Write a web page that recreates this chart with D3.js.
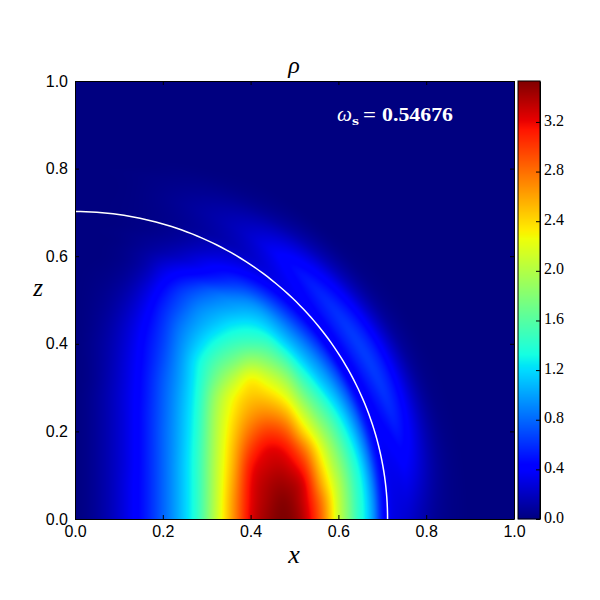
<!DOCTYPE html>
<html><head><meta charset="utf-8">
<script src="https://cdn.jsdelivr.net/npm/d3@7/dist/d3.min.js"></script>
<style>html,body{margin:0;padding:0;background:#fff}svg{display:block}</style>
</head><body><svg id="c" width="600" height="600"></svg>
<script>
// Grid positions of the density samples (both axes run 0 to 1 in 0.04 steps)
const xGrid = d3.range(26).map(i => i / 25);
const zGrid = d3.range(26).map(i => i / 25);
// rho; each row is one z, left to right in x. Cells not listed are 0.
const rhoRows = [
[0,.06,.17,.33,.52,.78,1.08,1.45,2.05,2.65,3.22,3.45,3.53,3.35,2.85,2.1,1.49,.95,.33,.24,.12,.04,.01],
[0,.06,.17,.33,.52,.78,1.08,1.45,2.04,2.64,3.2,3.42,3.5,3.3,2.78,2.08,1.47,.93,.33,.25,.13,.04,.01],
[0,.06,.17,.33,.52,.78,1.08,1.45,2.03,2.6,3.18,3.38,3.42,3.24,2.6,2.0,1.42,.88,.33,.32,.17,.05,.01],
[0,.06,.17,.32,.52,.78,1.08,1.45,2.02,2.55,3.12,3.3,3.3,3.05,2.42,1.85,1.33,.78,.34,.42,.22,.06,.01],
[0,.06,.17,.32,.52,.78,1.07,1.44,2.0,2.5,2.98,3.2,3.14,2.78,2.22,1.68,1.17,.62,.41,.42,.22,.05,.01],
[0,.06,.17,.32,.52,.78,1.06,1.42,1.98,2.43,2.8,2.98,2.87,2.42,1.95,1.48,1.0,.48,.49,.42,.17,.03],
[0,.06,.17,.32,.52,.77,1.05,1.4,1.95,2.35,2.62,2.7,2.55,2.1,1.66,1.27,.8,.42,.57,.37,.12,.02],
[0,.06,.17,.32,.51,.76,1.03,1.37,1.88,2.25,2.46,2.43,2.22,1.78,1.38,1.02,.52,.51,.54,.3,.08],
[0,.05,.16,.31,.5,.74,1.0,1.33,1.72,2.03,2.28,2.15,1.9,1.47,1.08,.72,.42,.6,.49,.21,.04],
[0,.05,.15,.3,.48,.7,.97,1.28,1.55,1.74,1.9,1.8,1.55,1.15,.8,.42,.53,.62,.35,.1,.01],
[0,.05,.14,.28,.46,.66,.92,1.15,1.35,1.48,1.53,1.47,1.2,.85,.5,.42,.62,.48,.2,.05],
[0,.04,.12,.25,.42,.62,.85,1.02,1.15,1.25,1.27,1.17,.9,.6,.37,.5,.53,.3,.09,.01],
[0,.03,.09,.2,.36,.56,.74,.9,.98,1.02,1.02,.92,.6,.34,.42,.5,.33,.16,.03],
[0,.02,.06,.14,.28,.46,.62,.72,.78,.82,.8,.58,.3,.34,.44,.33,.14,.04],
[0,.01,.03,.08,.18,.33,.42,.45,.48,.5,.38,.24,.26,.37,.29,.15,.05,.01],
[0,0,.01,.04,.1,.2,.28,.32,.28,.2,.16,.22,.29,.23,.12,.04],
[0,0,.01,.03,.06,.1,.15,.12,.12,.16,.2,.2,.15,.07,.02],
[0,0,0,.01,.03,.05,.06,.08,.11,.12,.1,.06,.03,.01],
[0,0,0,0,.03,.04,.06,.07,.06,.04,.02,.01],
[0,0,0,.01,.02,.02,.02,.02,.01]
];
// The thin outer crescent is read on a finer polar table: radius by angle from the x axis.
const shellRadii = d3.range(16).map(i => .6 + i * .02);
const shellAngles = [0,10,20,30,40,50,60,70,80,90];
const shellRows = [
[2.1,1.82,1.5,1.27,.95,.5,.33,.28,.24,.18,.12,.07,.04,.02,.01,0],
[2.1,1.8,1.5,1.25,.9,.5,.36,.36,.4,.34,.24,.14,.07,.03,.01,0],
[1.9,1.65,1.38,1.12,.82,.48,.42,.5,.58,.5,.35,.2,.09,.03,.01,0],
[1.62,1.4,1.15,.95,.7,.42,.44,.56,.64,.56,.4,.23,.1,.04,.01,0],
[1.35,1.2,1.02,.82,.6,.4,.42,.52,.58,.5,.36,.2,.09,.03,.01,0],
[1.15,1.05,.92,.72,.52,.36,.33,.38,.44,.38,.27,.15,.07,.02,0,0],
[.76,.6,.5,.42,.32,.24,.17,.18,.2,.18,.13,.07,.03,.01,0,0],
[.3,.24,.18,.13,.09,.07,.06,.07,.08,.07,.05,.03,.01,0,0,0],
[.04,.03,.02,.02,.01,.01,.01,.01,.01,.01,.01,0,0,0,0,0],
[0,0,0,0,0,0,0,0,0,0,0,0,0,0,0,0]
];
const axisTicks = [0, .2, .4, .6, .8, 1];
const barTicks = [0, .4, .8, 1.2, 1.6, 2, 2.4, 2.8, 3.2];
const rhoMax = 3.53;
const surfaceRx = 0.712, surfaceRz = 0.702;
const omegaValue = "0.54676";
// jet colormap breakpoints
const jetR = [[0,.35,.66,.89,1],[0,0,1,1,.5]];
const jetG = [[0,.125,.375,.64,.91,1],[0,0,1,1,0,0]];
const jetB = [[0,.11,.34,.65,1],[.5,1,1,0,0]];

const plot = {l:75, r:514, t:81, b:519};
const bar = {l:518, r:540};
const x = d3.scaleLinear().domain([0,1]).range([plot.l, plot.r]);
const z = d3.scaleLinear().domain([0,1]).range([plot.b, plot.t]);
const barY = d3.scaleLinear().domain([0,rhoMax]).range([plot.b, plot.t]);
const ch = ([d,r]) => d3.scaleLinear().domain(d).range(r).clamp(true);
const cr = ch(jetR), cg = ch(jetG), cb = ch(jetB);
const frac = d3.scaleLinear().domain([0,rhoMax]).range([0,1]).clamp(true);
const rgb = v => { const t = frac(v); return [cr(t)*255, cg(t)*255, cb(t)*255]; };

// Heat image: samples resampled smoothly per pixel, as imshow does
const cub = (p0,p1,p2,p3,t) => p1 + .5*t*(p2-p0 + t*(2*p0-5*p1+4*p2-p3 + t*(3*(p1-p2)+p3-p0)));
const clampIdx = (a,n) => Math.max(0,Math.min(n-1,a));
function resample(rows, nCols, u, v) {
  const get = (i,j) => { const row = rows[clampIdx(j,rows.length)]; const val = row[clampIdx(i,nCols)]; return val === undefined ? 0 : val; };
  const i = Math.floor(u), j = Math.floor(v), s = u-i, t = v-j;
  const r = [-1,0,1,2].map(dj => cub(get(i-1,j+dj),get(i,j+dj),get(i+1,j+dj),get(i+2,j+dj),s));
  return cub(r[0],r[1],r[2],r[3],t);
}
const paddedRows = zGrid.map((_,j) => rhoRows[j] || []);
const ix = d3.scaleLinear().domain(d3.extent(xGrid)).range([0,xGrid.length-1]);
const iz = d3.scaleLinear().domain(d3.extent(zGrid)).range([0,zGrid.length-1]);
const ir = d3.scaleLinear().domain(d3.extent(shellRadii)).range([0,shellRadii.length-1]);
const ia = d3.scaleLinear().domain(d3.extent(shellAngles)).range([0,shellAngles.length-1]);
const blend = d3.scaleLinear().domain([.6,.64]).range([0,1]).clamp(true);
function rho(xv, zv) {
  const inner = resample(paddedRows, xGrid.length, ix(xv), iz(zv));
  const r = Math.hypot(xv, zv), w = blend(r);
  if (w === 0) return Math.max(0, inner);
  const deg = Math.atan2(zv, xv) * 180 / Math.PI;
  const outer = r > d3.max(shellRadii) ? 0 : resample(shellRows, shellRadii.length, ir(r), ia(deg));
  return Math.max(0, inner*(1-w) + outer*w);
}
const W = plot.r-plot.l, H = plot.b-plot.t;
const cv = document.createElement('canvas'); cv.width=W; cv.height=H;
const ctx = cv.getContext('2d'); const img = ctx.createImageData(W,H);
for (let py=0; py<H; py++) for (let px=0; px<W; px++) {
  const c = rgb(rho(x.invert(plot.l+px+.5), z.invert(plot.t+py+.5)));
  const k = 4*(py*W+px);
  img.data[k]=c[0]; img.data[k+1]=c[1]; img.data[k+2]=c[2]; img.data[k+3]=255;
}
ctx.putImageData(img,0,0);

const svg = d3.select('#c');
svg.append('image').attr('x',plot.l).attr('y',plot.t).attr('width',W).attr('height',H)
  .attr('preserveAspectRatio','none').attr('href',cv.toDataURL());

// surface curve
const angles = d3.range(0,91).map(d => d*Math.PI/180);
svg.append('path').datum(angles).attr('fill','none').attr('stroke','#fff').attr('stroke-width',1.5)
  .attr('d', d3.line().x(a => x(surfaceRx*Math.cos(a))).y(a => z(surfaceRz*Math.sin(a))));

// colorbar
const levels = d3.range(0, Math.round(plot.b-plot.t));
svg.append('g').selectAll('rect').data(levels).join('rect')
  .attr('x',bar.l).attr('width',bar.r-bar.l).attr('y',d=>plot.t+d).attr('height',1.2)
  .attr('fill',d=>{const c=rgb(barY.invert(plot.t+d+.5));return d3.rgb(c[0],c[1],c[2]).formatRgb();});
svg.append('rect').attr('x',bar.l).attr('y',plot.t).attr('width',bar.r-bar.l).attr('height',H)
  .attr('fill','none').attr('stroke','#000');

const sans = "'Liberation Sans',sans-serif", serif = "'Liberation Serif',serif";
function styleAxis(g, font, size){
  g.selectAll('path.domain').attr('stroke','#000').attr('stroke-width',1);
  g.selectAll('line').attr('stroke','#000').attr('stroke-width',1);
  g.selectAll('text').attr('font-family',font).attr('font-size',size).attr('fill','#000');
}
const fmt = d3.format('.1f');
svg.append('g').attr('transform',`translate(0,${plot.b})`)
  .call(d3.axisBottom(x).tickValues(axisTicks).tickFormat(fmt).tickSize(-4).tickSizeOuter(0).tickPadding(7))
  .call(styleAxis,sans,16);
svg.append('g').attr('transform',`translate(${plot.l},0)`)
  .call(d3.axisLeft(z).tickValues(axisTicks).tickFormat(fmt).tickSize(-4).tickSizeOuter(0).tickPadding(7))
  .call(styleAxis,sans,16);
svg.append('g').attr('transform',`translate(0,${plot.t})`)
  .call(d3.axisTop(x).tickValues(axisTicks).tickFormat('').tickSize(-4).tickSizeOuter(0))
  .call(styleAxis,sans,16);
svg.append('g').attr('transform',`translate(${plot.r},0)`)
  .call(d3.axisRight(z).tickValues(axisTicks).tickFormat('').tickSize(-4).tickSizeOuter(0))
  .call(styleAxis,sans,16);
svg.append('g').attr('transform',`translate(${bar.r},0)`)
  .call(d3.axisRight(barY).tickValues(barTicks).tickFormat(fmt).tickSize(-4).tickSizeOuter(0).tickPadding(4))
  .call(styleAxis,serif,16)
  .selectAll('text').attr('transform','translate(0,-2)');

const label = (t,px,py,size) => svg.append('text').attr('x',px).attr('y',py).attr('text-anchor','middle')
  .attr('font-family',serif).attr('font-style','italic').attr('font-size',size).attr('fill','#000').text(t);
label('ρ',294,73,24);
label('x',294,563,26);
label('z',38,296,25);

const note = (t,px,w,size,extra) => svg.append('text').attr('x',px).attr('y',extra.y||121).attr('fill','#fff')
  .attr('font-family',serif).attr('font-size',size).attr('font-weight',extra.weight||'bold')
  .attr('font-style',extra.style||'normal').attr('textLength',w).attr('lengthAdjust','spacingAndGlyphs').text(t);
note('ω',337,15,22,{style:'italic',weight:'normal'});
note('s',352,7,13,{y:125});
note('=',363,13,19,{});
note(omegaValue,382,71,19,{});
</script></body></html>
